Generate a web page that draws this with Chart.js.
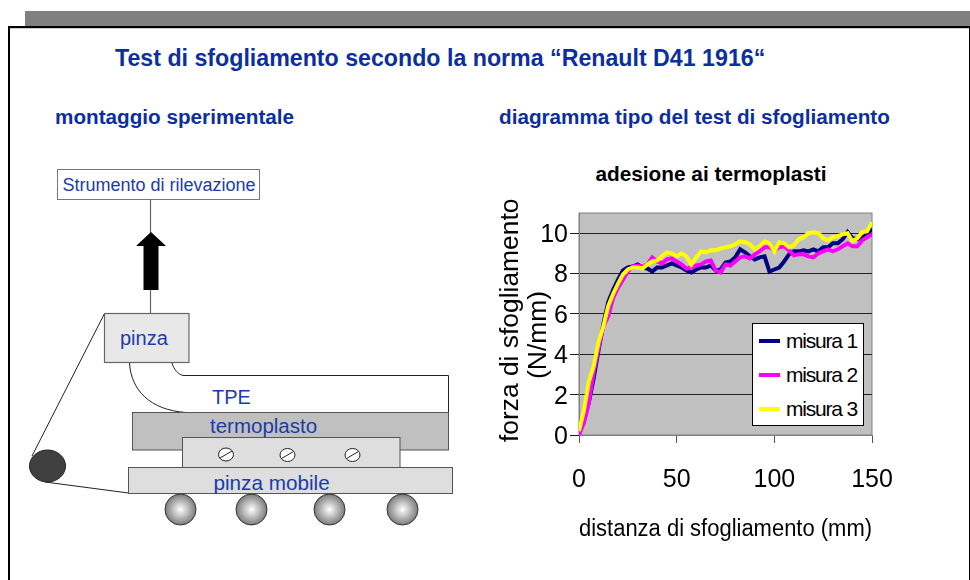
<!DOCTYPE html>
<html lang="it">
<head>
<meta charset="utf-8">
<title>Test di sfogliamento</title>
<script src="https://cdn.jsdelivr.net/npm/chart.js@4"></script>
<style>
    html, body { margin: 0; padding: 0; background: #fff; }
    body { width: 970px; height: 580px; position: relative; overflow: hidden; font-family: "Liberation Sans", Arial, sans-serif; }
    .band { position: absolute; left: 25px; top: 11px; width: 945px; height: 15px; background: #808080; }
    .frame { position: absolute; left: 8px; top: 26px; width: 959px; height: 560px; border: 2px solid #000; border-bottom: none; box-shadow: inset 0 1px 0 #ccc; }
    .head { position: absolute; color: #0b2f9e; font-weight: bold; white-space: nowrap; }
    #diagram { position: absolute; left: 0; top: 0; }
    #diagram text { font-family: "Liberation Sans", Arial, sans-serif; fill: #1a3caa; }
    #chartTitle { position: absolute; left: 490px; width: 442px; top: 162px; text-align: center; font-size: 20.8px; line-height: 24px; font-weight: bold; color: #000; }
    #chartBox { position: absolute; left: 490px; top: 150px; width: 442px; height: 393px; }
    #legend { position: absolute; left: 752px; top: 323px; width: 110px; height: 101px; background: #fff; border: 1px solid #000; }
    #legend div { position: absolute; left: 33px; font-size: 21px; letter-spacing: -1.2px; line-height: 24px; color: #000; white-space: nowrap; }
    #legend span { position: absolute; left: -27px; top: 10px; width: 21px; height: 4px; }
</style>
</head>
<body>
<div class="band"></div>
<div class="frame"></div>
<div class="head" style="left:115px;top:45px;font-size:23.2px">Test di sfogliamento secondo la norma “Renault D41 1916“</div>
<div class="head" style="left:55px;top:105px;font-size:20.7px">montaggio sperimentale</div>
<div class="head" style="left:499px;top:105px;font-size:20.7px">diagramma tipo del test di sfogliamento</div>
<div id="chartTitle">adesione ai termoplasti</div>

<svg id="diagram" width="970" height="580">
    <defs>
        <radialGradient id="ball" cx="0.5" cy="0.5" r="0.55">
            <stop offset="0" stop-color="#fff"/>
            <stop offset="1" stop-color="#6e6e6e"/>
        </radialGradient>
    </defs>
    <!-- instrument and arrow -->
    <rect x="57.5" y="169.5" width="202" height="30" fill="#fff" stroke="#777"/>
    <text x="159" y="191" font-size="18" text-anchor="middle">Strumento di rilevazione</text>
    <line x1="150.5" y1="199" x2="150.5" y2="313" stroke="#666" stroke-width="1.2"/>
    <polygon points="151,232 166,246 158.5,246 158.5,290 143.5,290 143.5,246 136,246" fill="#000"/>
    <!-- cable and roller -->
    <line x1="104.5" y1="313.5" x2="32" y2="456" stroke="#222"/>
    <line x1="45" y1="482" x2="128.5" y2="493" stroke="#222"/>
    <ellipse cx="47.5" cy="466" rx="18" ry="16" fill="#404040" stroke="#222"/>
    <!-- TPE strip -->
    <path d="M129.5 363 C131 390 150 410 186 412.5" fill="none" stroke="#222"/>
    <path d="M172 363 C174 370 178 374 183 375.5 L448.5 375.5 L448.5 412.5" fill="none" stroke="#222"/>
    <rect x="104.5" y="313.5" width="84.5" height="49" fill="#e8e8e8" stroke="#666" stroke-width="1.2"/>
    <text x="120" y="345" font-size="20">pinza</text>
    <text x="212" y="404" font-size="20">TPE</text>
    <!-- plates -->
    <rect x="132.5" y="412.5" width="316" height="37.5" fill="#c0c0c0" stroke="#555"/>
    <text x="210" y="433" font-size="20.5">termoplasto</text>
    <rect x="182.5" y="437.5" width="217.5" height="30" fill="#dedede" stroke="#555"/>
    <rect x="128.5" y="467.5" width="324" height="26" fill="#dedede" stroke="#555"/>
    <text x="213.5" y="490" font-size="20.7">pinza mobile</text>
    <!-- screws -->
    <g fill="#fff" stroke="#222">
        <ellipse cx="226" cy="454.5" rx="7.5" ry="6.5"/>
        <ellipse cx="287.5" cy="455" rx="7.5" ry="6.5"/>
        <ellipse cx="352.5" cy="455" rx="7.5" ry="6.5"/>
        <line x1="220" y1="458" x2="232" y2="451"/>
        <line x1="281.5" y1="458.5" x2="293.5" y2="451.5"/>
        <line x1="346.5" y1="458.5" x2="358.5" y2="451.5"/>
    </g>
    <!-- rollers under the mobile clamp -->
    <g fill="url(#ball)" stroke="#333">
        <circle cx="180.5" cy="509.5" r="15.5"/>
        <circle cx="251.5" cy="509.5" r="15.5"/>
        <circle cx="329.5" cy="509.5" r="15.5"/>
        <circle cx="402.5" cy="509.5" r="15.5"/>
    </g>
</svg>

<div id="chartBox"><canvas id="peelChart"></canvas></div>
<div id="legend"></div>

<script>
// Values
const distanza = [0, 2.5, 5, 7.5, 10, 12.5, 15, 17.5, 20, 22.5, 25, 27.5, 30, 32.5, 35, 37.5, 40, 42.5, 45, 47.5,
    50, 52.5, 55, 57.5, 60, 62.5, 65, 67.5, 70, 72.5, 75, 77.5, 80, 82.5, 85, 87.5, 90, 92.5, 95, 97.5,
    100, 102.5, 105, 107.5, 110, 112.5, 115, 117.5, 120, 122.5, 125, 127.5, 130, 132.5, 135, 137.5, 140, 142.5, 145, 147.5, 150];
const misura1 = [0.1, 0.7, 1.6, 2.8, 4.2, 5.5, 6.6, 7.2, 7.7, 8.15, 8.3, 8.35, 8.45, 8.3, 8.25, 8.1, 8.3, 8.3, 8.4, 8.5,
    8.4, 8.3, 8.15, 8.05, 8.2, 8.3, 8.3, 8.4, 8.15, 8.2, 8.55, 8.6, 8.8, 9.2, 9.05, 8.85, 8.7, 8.8, 8.85, 8.1,
    8.2, 8.3, 8.6, 8.95, 9.1, 9.1, 9.15, 9.1, 9.2, 9.1, 9.3, 9.3, 9.5, 9.5, 9.7, 10.05, 9.75, 9.7, 9.8, 9.9, 10.25];
const misura2 = [0, 0.6, 1.6, 3.1, 4.3, 5.4, 5.9, 6.8, 7.3, 7.7, 8.1, 8.35, 8.4, 8.35, 8.45, 8.8, 8.6, 8.5, 8.7, 8.75,
    8.6, 8.45, 8.25, 8.3, 8.4, 8.45, 8.6, 8.65, 8.15, 8.05, 8.45, 8.4, 8.6, 8.8, 8.85, 8.75, 8.95, 9.1, 9.3, 9.3,
    9.15, 9.3, 9.35, 9.15, 8.9, 8.95, 8.95, 8.85, 8.8, 9.0, 9.1, 9.2, 9.1, 9.2, 9.35, 9.5, 9.35, 9.35, 9.65, 9.8, 9.95];
const misura3 = [0.2, 1.2, 2.6, 3.4, 4.6, 5.4, 6.4, 7.0, 7.5, 7.95, 8.2, 8.3, 8.3, 8.25, 8.45, 8.6, 8.65, 8.85, 9.05, 9.0,
    8.85, 9.0, 8.85, 8.45, 8.8, 9.1, 9.05, 9.15, 9.15, 9.25, 9.3, 9.35, 9.45, 9.6, 9.55, 9.45, 9.2, 9.35, 9.6, 9.5,
    9.1, 9.55, 9.5, 9.3, 9.4, 9.7, 9.8, 10.0, 10.05, 10.0, 9.75, 9.65, 9.8, 9.85, 9.95, 10.0, 9.6, 9.75, 10.05, 10.1, 10.55];
const nomiSerie = ["misura 1", "misura 2", "misura 3"];
const coloriSerie = ["#000080", "#ff00ff", "#ffff00"];
const valoriSerie = [misura1, misura2, misura3];

// grey plot background with the thin frame round it
const plotBackground = {
    id: "plotBackground",
    beforeDraw(chart) {
        const { ctx, chartArea: a } = chart;
        ctx.save();
        ctx.fillStyle = "#c0c0c0";
        ctx.fillRect(a.left, a.top, a.width, a.height);
        ctx.strokeStyle = "#808080";
        ctx.lineWidth = 1;
        ctx.strokeRect(a.left, a.top, a.width, a.height);
        ctx.restore();
    }
};

new Chart(document.getElementById("peelChart"), {
    type: "line",
    data: {
        datasets: valoriSerie.map((valori, i) => ({
            label: nomiSerie[i],
            data: valori.map((v, k) => ({ x: distanza[k], y: v })),
            borderColor: coloriSerie[i],
            backgroundColor: coloriSerie[i],
            borderWidth: 4,
            pointRadius: 0,
            tension: 0,
            order: 2 - i // yellow on top
        }))
    },
    plugins: [plotBackground],
    options: {
        responsive: true,
        maintainAspectRatio: false,
        animation: false,
        layout: { padding: { left: 0, right: 60, top: 63, bottom: 0 } },
        plugins: {
            legend: { display: false },
            tooltip: { enabled: false }
        },
        scales: {
            x: {
                type: "linear",
                min: 0,
                max: 150,
                afterFit: s => { s.height = 108; },
                ticks: { stepSize: 50, color: "#000", padding: 22, maxRotation: 0, font: { family: "Liberation Sans", size: 25 } },
                border: { color: "#808080" },
                grid: { drawOnChartArea: false, color: "#555", tickLength: 8 },
                title: {
                    display: true,
                    text: "distanza di sfogliamento (mm)",
                    color: "#000",
                    padding: { top: 0, bottom: 0 },
                    font: { family: "Liberation Sans", size: 23 }
                }
            },
            y: {
                min: 0,
                max: 11,
                afterFit: s => { s.width = 89; },
                ticks: { stepSize: 2, includeBounds: false, color: "#000", padding: 2, labelOffset: 2, font: { family: "Liberation Sans", size: 25 } },
                border: { color: "#808080" },
                grid: { color: "#222", tickLength: 9 },
                title: {
                    display: true,
                    // the spaces nudge each rotated line along the axis, as in the original
                    text: [" forza di sfogliamento", "(N/mm)   "],
                    color: "#000",
                    padding: { top: 7, bottom: 0 },
                    font: { family: "Liberation Sans", size: 26.4, lineHeight: 1.06 }
                }
            }
        }
    }
});

// legend box sits on top of the plot
const rigaY = [5, 39, 73];
document.getElementById("legend").innerHTML = nomiSerie.map((nome, i) =>
    `<div style="top:${rigaY[i]}px"><span style="background:${coloriSerie[i]}"></span>${nome}</div>`).join("");
</script>
</body>
</html>
